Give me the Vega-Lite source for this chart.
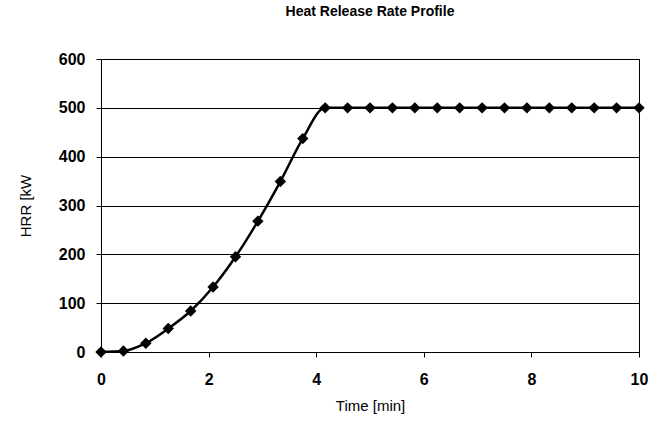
{
  "$schema": "https://vega.github.io/schema/vega-lite/v6.json",
  "width": 538,
  "height": 293,
  "autosize": "none",
  "padding": {"left": 101, "top": 59, "right": 18, "bottom": 83},
  "background": "white",
  "title": {"text": "Heat Release Rate Profile", "font": "Liberation Sans", "fontSize": 14, "fontWeight": "bold", "color": "black", "offset": 32, "anchor": "middle"},
  "config": {"view": {"stroke": "black", "strokeWidth": 1}},
  "data": {"values": [
    {"t": 0, "hrr": 0},
    {"t": 0.4167, "hrr": 2},
    {"t": 0.8333, "hrr": 18},
    {"t": 1.25, "hrr": 48},
    {"t": 1.6667, "hrr": 84},
    {"t": 2.0833, "hrr": 133},
    {"t": 2.5, "hrr": 195},
    {"t": 2.9167, "hrr": 268},
    {"t": 3.3333, "hrr": 349},
    {"t": 3.75, "hrr": 437},
    {"t": 4.1667, "hrr": 500},
    {"t": 4.5833, "hrr": 500},
    {"t": 5, "hrr": 500},
    {"t": 5.4167, "hrr": 500},
    {"t": 5.8333, "hrr": 500},
    {"t": 6.25, "hrr": 500},
    {"t": 6.6667, "hrr": 500},
    {"t": 7.0833, "hrr": 500},
    {"t": 7.5, "hrr": 500},
    {"t": 7.9167, "hrr": 500},
    {"t": 8.3333, "hrr": 500},
    {"t": 8.75, "hrr": 500},
    {"t": 9.1667, "hrr": 500},
    {"t": 9.5833, "hrr": 500},
    {"t": 10, "hrr": 500}
  ]},
  "encoding": {
    "x": {"field": "t", "type": "quantitative", "scale": {"domain": [0, 10], "nice": false},
      "axis": {"title": "Time [min]", "values": [0, 2, 4, 6, 8, 10], "grid": false, "labelFlush": false, "domainColor": "black", "tickColor": "black", "tickSize": 5, "labelFont": "Liberation Sans", "labelFontSize": 16, "labelFontWeight": "bold", "labelColor": "black", "labelPadding": 14, "titleFont": "Liberation Sans", "titleFontSize": 15, "titleFontWeight": "normal", "titleColor": "black", "titlePadding": 11}},
    "y": {"field": "hrr", "type": "quantitative", "scale": {"domain": [0, 600], "nice": false},
      "axis": {"title": "HRR [kW", "values": [0, 100, 200, 300, 400, 500, 600], "grid": true, "gridColor": "black", "gridOpacity": 1, "gridWidth": 1, "domainColor": "black", "tickColor": "black", "tickSize": 5, "labelFlush": false, "labelFont": "Liberation Sans", "labelFontSize": 16, "labelFontWeight": "bold", "labelColor": "black", "labelPadding": 11, "titleFont": "Liberation Sans", "titleFontSize": 15, "titleFontWeight": "normal", "titleColor": "black", "titlePadding": 25}}
  },
  "layer": [
    {"mark": {"type": "line", "color": "black", "strokeWidth": 2.5, "interpolate": "monotone"}},
    {"mark": {"type": "point", "shape": "diamond", "filled": true, "color": "black", "size": 130, "opacity": 1}}
  ]
}
